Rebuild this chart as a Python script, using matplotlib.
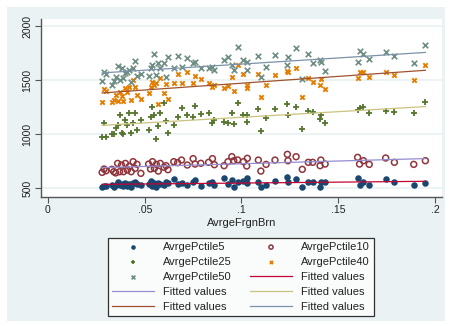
import numpy as np
import matplotlib
matplotlib.use("Agg")
import matplotlib.pyplot as plt
from matplotlib.patches import Rectangle

plt.rcParams['font.family'] = ['Liberation Sans', 'DejaVu Sans']

# AvrgeFrgnBrn (shared x for every series)
frgn = [0.028, 0.029, 0.030, 0.033, 0.034, 0.035, 0.036, 0.037, 0.038, 0.039,
        0.040, 0.041, 0.042, 0.043, 0.044, 0.045, 0.046, 0.048,
        0.052, 0.053, 0.054, 0.055, 0.056, 0.057, 0.058, 0.060, 0.061, 0.062,
        0.065, 0.067, 0.069, 0.072, 0.075, 0.076, 0.079, 0.083, 0.085, 0.086,
        0.091, 0.093, 0.095, 0.096, 0.098,
        0.101, 0.103, 0.1027, 0.1087, 0.110, 0.1127, 0.1173, 0.1237, 0.1240,
        0.1282, 0.1314, 0.1345, 0.1368, 0.1406, 0.141, 0.1432,
        0.160, 0.161, 0.163, 0.166, 0.1745, 0.179, 0.189, 0.195]

pct5 = [506, 520, 515, 528, 510, 530, 558, 525, 540, 515, 549, 520, 535, 510, 545, 558, 537, 525,
        535, 568, 520, 545, 512, 550, 540, 530, 560, 545, 580, 535, 550, 525, 555, 574, 518, 545,
        560, 530, 590, 540, 574, 512, 555,
        568, 590, 544, 558, 506, 528, 568, 605, 558, 583, 512, 553, 553, 512, 558, 553,
        590, 528, 556, 528, 583, 556, 531, 546]

pct10 = [645, 676, 660, 673, 651, 640, 728, 651, 713, 651, 728, 667, 700, 651, 744, 682, 720, 636,
         722, 676, 744, 682, 719, 657, 728, 692, 707, 670, 744, 735, 759, 713, 772, 722, 729, 738,
         772, 716, 707, 744, 790, 753, 760,
         744, 775, 704, 759, 657, 719, 759, 812, 753, 790, 673, 738, 738, 707, 759, 722,
         784, 722, 753, 719, 778, 738, 719, 753]

pct25 = [975, 1099, 969, 997, 1000, 1053, 1083, 1176, 1012, 1000, 1130, 1083, 1191, 1012, 1099, 1197, 1037, 1130,
         1040, 1160, 1253, 1176, 951, 1074, 1191, 1284, 1123, 1006, 1083, 1160, 1238, 1176, 1160, 1259, 1185, 1191,
         1105, 1130, 1114, 1105, 1191, 1093, 1289,
         1176, 1176, 1114, 1231, 1031, 1145, 1228, 1278, 1176, 1253, 1043, 1216, 1206, 1136, 1176, 1105,
         1222, 1238, 1247, 1197, 1213, 1204, 1192, 1299]

pct40 = [1293, 1417, 1400, 1293, 1315, 1361, 1306, 1386, 1355, 1306, 1429, 1392, 1438, 1315, 1500, 1438, 1361, 1320,
         1377, 1438, 1484, 1454, 1469, 1275, 1516, 1377, 1460, 1324, 1469, 1552, 1469, 1571, 1469, 1537, 1509, 1469,
         1438, 1454, 1423, 1449, 1531, 1398, 1639,
         1556, 1423, 1454, 1556, 1340, 1454, 1546, 1586, 1577, 1608, 1340, 1516, 1484, 1454, 1506, 1417,
         1516, 1577, 1571, 1528, 1571, 1546, 1503, 1639]

pct50 = [1491, 1577, 1560, 1454, 1491, 1531, 1630, 1500, 1608, 1516, 1562, 1577, 1593, 1484, 1608, 1679, 1540, 1560,
         1540, 1608, 1639, 1738, 1546, 1654, 1608, 1654, 1531, 1716, 1608, 1725, 1623, 1701, 1654, 1670, 1608, 1608,
         1623, 1593, 1685, 1716, 1639, 1593, 1808,
         1685, 1667, 1593, 1722, 1528, 1620, 1731, 1639, 1713, 1796, 1509, 1741, 1657, 1685, 1667, 1583,
         1664, 1768, 1743, 1694, 1759, 1719, 1655, 1824]

series_names = ["AvrgePctile5", "AvrgePctile10", "AvrgePctile25", "AvrgePctile40", "AvrgePctile50"]
x_ticks = [0, 0.05, 0.1, 0.15, 0.2]
x_labels = ["0", ".05", ".1", ".15", ".2"]
y_ticks = [500, 1000, 1500, 2000]

W, H = 449, 326
fig = plt.figure(figsize=(W / 100, H / 100), dpi=100)
fig.patch.set_facecolor("white")
fig.patches.append(Rectangle((7 / W, (H - 321) / H), 438 / W, 314 / H,
                             transform=fig.transFigure, facecolor="#EAF2F3",
                             edgecolor="none", zorder=-10))

ax = fig.add_axes([41 / W, (H - 197) / H, 401 / W, 178 / H])
ax.set_facecolor("white")

x = np.array(frgn)
ys = [np.array(v) for v in (pct5, pct10, pct25, pct40, pct50)]

handles = []
handles.append(ax.scatter(x, ys[0], s=22, color="#1A476F", marker="o", linewidths=0, zorder=3))
handles.append(ax.scatter(x, ys[1], s=18, facecolors="none", edgecolors="#90353B", marker="o", linewidths=1.1, zorder=3))
handles.append(ax.scatter(x, ys[2], s=24, color="#55752F", marker="+", linewidths=1.3, zorder=3))
handles.append(ax.scatter(x, ys[3], s=10, color="#E37E00", marker="x", linewidths=1.4, zorder=3))
handles.append(ax.scatter(x, ys[4], s=16, color="#6E8E84", marker="x", linewidths=1.2, zorder=3))

fit_colors = ["#C10534", "#938DD2", "#CAC27E", "#A0522D", "#7B92A8"]
xs = np.array([x.min(), x.max()])
fit_handles = []
for yv, c in zip(ys, fit_colors):
    b, a = np.polyfit(x, yv, 1)
    ln, = ax.plot(xs, a + b * xs, color=c, lw=0.9, zorder=4)
    fit_handles.append(ln)

ax.set_xlim(-0.0036, 0.2036)
ax.set_ylim(417, 2065)
ax.set_xticks(x_ticks)
ax.set_xticklabels(x_labels)
ax.set_yticks(y_ticks)
ax.set_yticklabels([str(t) for t in y_ticks], rotation=90, va="center")
ax.grid(axis="y", color="#EAF2F3", lw=1.3, zorder=0)
ax.set_axisbelow(True)
for s in ("top", "right"):
    ax.spines[s].set_visible(False)
for s in ("left", "bottom"):
    ax.spines[s].set_color("#555555")
    ax.spines[s].set_linewidth(1.0)
ax.tick_params(direction="out", length=4, width=0.8, color="#555555",
               labelsize=7.5, labelcolor="#222222", pad=2)
ax.set_xlabel("AvrgeFrgnBrn", fontsize=8, color="#222222", labelpad=2)

labels = series_names + ["Fitted values"] * 5
allh = handles + fit_handles
# Stata fills rows first; matplotlib fills columns first
order = [0, 2, 4, 6, 8, 1, 3, 5, 7, 9]
leg = fig.legend([allh[i] for i in order], [labels[i] for i in order],
                 ncol=2, loc="upper center", bbox_to_anchor=(241 / W, (H - 232) / H),
                 fontsize=8, frameon=True, fancybox=False, edgecolor="black",
                 handlelength=3.8, handletextpad=0.8, columnspacing=1.6,
                 labelspacing=0.45, borderpad=0.4, scatterpoints=1, markerscale=0.7)
leg.get_frame().set_linewidth(0.9)
for t in leg.get_texts():
    t.set_color("#222222")

fig.savefig("out.png", dpi=100, facecolor=fig.get_facecolor())
